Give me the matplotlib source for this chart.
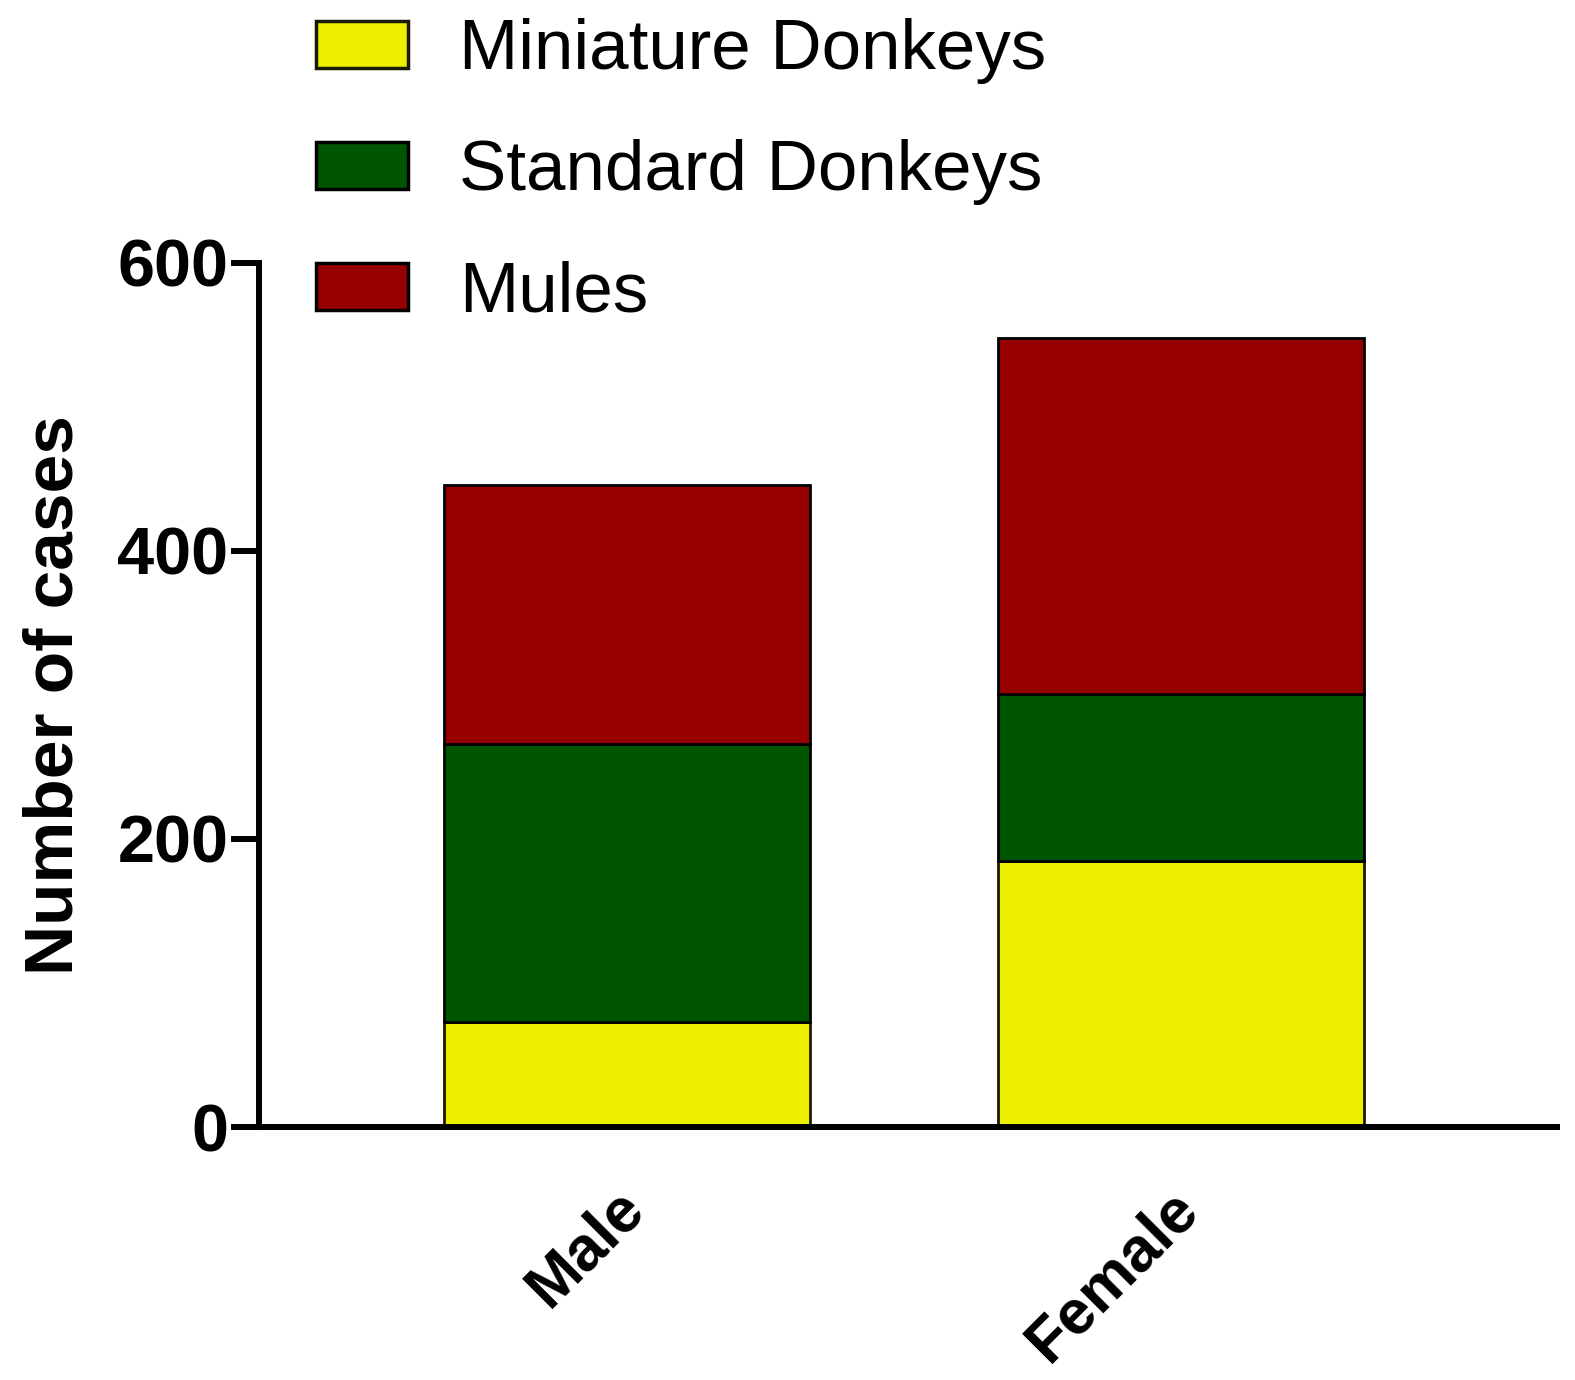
import matplotlib
matplotlib.use("Agg")
import matplotlib.pyplot as plt
import matplotlib.transforms as mtransforms
import numpy as np

plt.rcParams['font.family'] = ['Liberation Sans', 'DejaVu Sans']

categories = ["Male", "Female"]
series_names = ["Miniature Donkeys", "Standard Donkeys", "Mules"]
miniature = [73, 185]
standard = [193, 116]
mules = [180, 247]
colors = ["#EEEE00", "#005500", "#960000"]
yticks = [0, 200, 400, 600]

fig = plt.figure(figsize=(15.75, 13.8), dpi=100)
ax = fig.add_axes([259/1575, 1 - 1127/1380, (1557-259)/1575, (1127-263)/1380])

x = np.arange(len(categories))
bottom = np.zeros(len(categories))
handles = []
for vals, name, c in zip([miniature, standard, mules], series_names, colors):
    b = ax.bar(x, vals, width=0.66, bottom=bottom, color=c, edgecolor="#1a1a00" if c == "#EEEE00" else "black",
               linewidth=2, label=name, zorder=2)
    handles.append(b)
    bottom += np.array(vals)

ax.set_xlim(-0.664, 1.679)
ax.set_ylim(0, 600)
ax.set_yticks(yticks)
ax.set_yticklabels([str(t) for t in yticks], fontsize=48, fontweight='bold')
ax.set_xticks(x)
ax.set_xticklabels(categories, fontsize=45, fontweight='bold', rotation=45,
                   ha='right', va='center', rotation_mode='anchor')
ax.tick_params(axis='x', length=0, pad=52)
ax.tick_params(axis='y', length=20, width=4.3, pad=2)
offset = mtransforms.ScaledTranslation(8/100, 0, fig.dpi_scale_trans)
for lbl in ax.get_xticklabels():
    lbl.set_transform(lbl.get_transform() + offset)
for s in ['top', 'right']:
    ax.spines[s].set_visible(False)
for s in ['left', 'bottom']:
    ax.spines[s].set_linewidth(4.3)
ax.spines['left'].set_bounds(0, 600)
ax.set_ylabel("Number of cases", fontsize=50, fontweight='bold', labelpad=22)

leg = fig.legend(handles=handles, labels=series_names, loc='upper left',
                 bbox_to_anchor=(316/1575, 1 - 18/1380), frameon=False,
                 fontsize=51, handlelength=1.3, handleheight=0.64,
                 handletextpad=0.72, labelspacing=0.78, borderpad=0, borderaxespad=0)
for h in leg.legend_handles:
    h.set_linewidth(2.5)

fig.savefig("out.png", dpi=100)
